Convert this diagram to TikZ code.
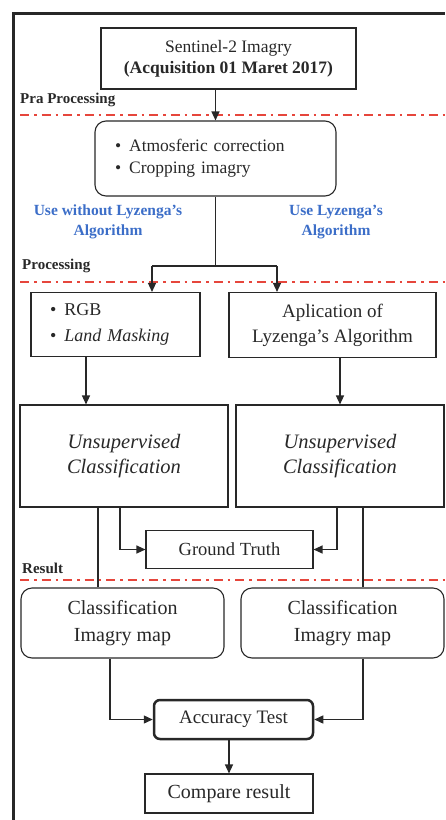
\documentclass[tikz,border=0pt]{standalone}
\usepackage{fontspec}
\setmainfont{Liberation Serif}
\usetikzlibrary{arrows.meta}
\definecolor{ink}{RGB}{40,40,40}
\definecolor{dashred}{RGB}{230,70,60}
\definecolor{labblue}{RGB}{60,110,200}
\begin{document}
\begin{tikzpicture}[x=1pt,y=-1pt,
 box/.style={draw=ink, line width=1.1pt, text=ink, inner sep=0pt, align=center},
 rbox/.style={box, rounded corners=11pt},
 conn/.style={draw=ink, line width=1.3pt},
 arr/.style={conn, -{Triangle[length=9pt,width=8pt]}},
 sepline/.style={draw=dashred, line width=2.2pt, dash pattern=on 9pt off 5pt on 2.5pt off 5pt},
 sect/.style={font=\bfseries\fontsize{15}{18}\selectfont, text=ink, anchor=west, inner sep=0pt},
 bluelab/.style={font=\bfseries\fontsize{15.5}{19.5}\selectfont, text=labblue, align=center, inner sep=0pt},
]
\useasboundingbox (0,0) rectangle (445,820);
\draw[ink, line width=3pt] (13,820) -- (13,13) -- (445,13);

% separators
\draw[sepline] (20,115) -- (445,115);
\draw[sepline] (20,282) -- (445,282);
\draw[sepline] (20,580) -- (445,580);

% section labels
\node[sect] (lpra) at (20,100) {Pra Processing};
\node[sect] (lproc) at (22,266) {Processing};
\node[sect] (lres) at (22,568) {Result};

\node[bluelab] (bl) at (108,222) {Use without Lyzenga's\\Algorithm};
\node[bluelab] (br) at (336,222) {Use Lyzenga's\\Algorithm};

% nodes
\node[box, line width=2.5pt, minimum width=255pt, minimum height=61pt, font=\fontsize{17.5}{21}\selectfont] (src) at (228.5,58.5) {Sentinel-2 Imagry\\\textbf{(Acquisition 01 Maret 2017)}};
\node[rbox, minimum width=241pt, minimum height=75pt, text width=201pt, align=left, inner xsep=20pt, font=\fontsize{17.5}{22}\selectfont] (pre) at (215.5,158.5) {\textbullet\hspace{8pt}Atmosferic correction\\\textbullet\hspace{8pt}Cropping imagry};
\node[box, minimum width=169pt, minimum height=64pt, text width=131pt, align=left, inner xsep=19pt, font=\fontsize{18}{26}\selectfont] (rgb) at (115.5,324.5) {\textbullet\hspace{8pt}RGB\\\textbullet\hspace{8pt}\textit{Land Masking}};
\node[box, minimum width=207pt, minimum height=65pt, font=\fontsize{19}{25}\selectfont] (apl) at (332.5,325) {Aplication of\\Lyzenga's Algorithm};
\node[box, minimum width=208pt, minimum height=102pt, font=\itshape\fontsize{20.5}{25}\selectfont] (usl) at (124,456) {Unsupervised\\Classification};
\node[box, minimum width=208pt, minimum height=102pt, font=\itshape\fontsize{20.5}{25}\selectfont] (usr) at (340,456) {Unsupervised\\Classification};
\node[box, minimum width=167pt, minimum height=38pt, font=\fontsize{18.5}{22}\selectfont] (gt) at (229.5,549.5) {Ground Truth};
\node[rbox, minimum width=203pt, minimum height=70pt, font=\fontsize{20}{27}\selectfont] (mapl) at (122.5,623) {Classification\\Imagry map};
\node[rbox, minimum width=203pt, minimum height=70pt, font=\fontsize{20}{27}\selectfont] (mapr) at (342.5,623) {Classification\\Imagry map};
\node[box, rounded corners=6pt, line width=2.5pt, minimum width=159pt, minimum height=39pt, font=\fontsize{19}{22}\selectfont] (acc) at (233.5,719.5) {Accuracy Test};
\node[box, minimum width=168pt, minimum height=39pt, font=\fontsize{20}{24}\selectfont] (cmp) at (229,793.5) {Compare result};

% helper x-positions
\coordinate (jl) at (152,266);
\coordinate (jr) at (277,266);
\coordinate (a1) at (86,0);
\coordinate (a2) at (340,0);
\coordinate (b1) at (120,0);
\coordinate (b2) at (337,0);
\coordinate (c1) at (98,0);
\coordinate (c2) at (363,0);
\coordinate (d1) at (110,0);

% connectors
\draw[arr] (src.south -| pre) -- (pre.north);
\draw[conn] (pre.south) -- (pre.south |- jl);
\draw[conn] (jl) -- (jr);
\draw[arr] (jl) -- (jl |- rgb.north);
\draw[arr] (jr) -- (jr |- apl.north);
\draw[arr] (rgb.south -| a1) -- (usl.north -| a1);
\draw[arr] (apl.south -| a2) -- (usr.north -| a2);
\draw[arr] (usl.south -| b1) |- (gt.west);
\draw[arr] (usr.south -| b2) |- (gt.east);
\draw[conn] (usl.south -| c1) -- (mapl.north -| c1);
\draw[conn] (usr.south -| c2) -- (mapr.north -| c2);
\draw[arr] (mapl.south -| d1) |- (acc.west);
\draw[arr] (mapr.south -| c2) |- (acc.east);
\draw[arr] (acc.south -| cmp) -- (cmp.north);
\end{tikzpicture}
\end{document}
